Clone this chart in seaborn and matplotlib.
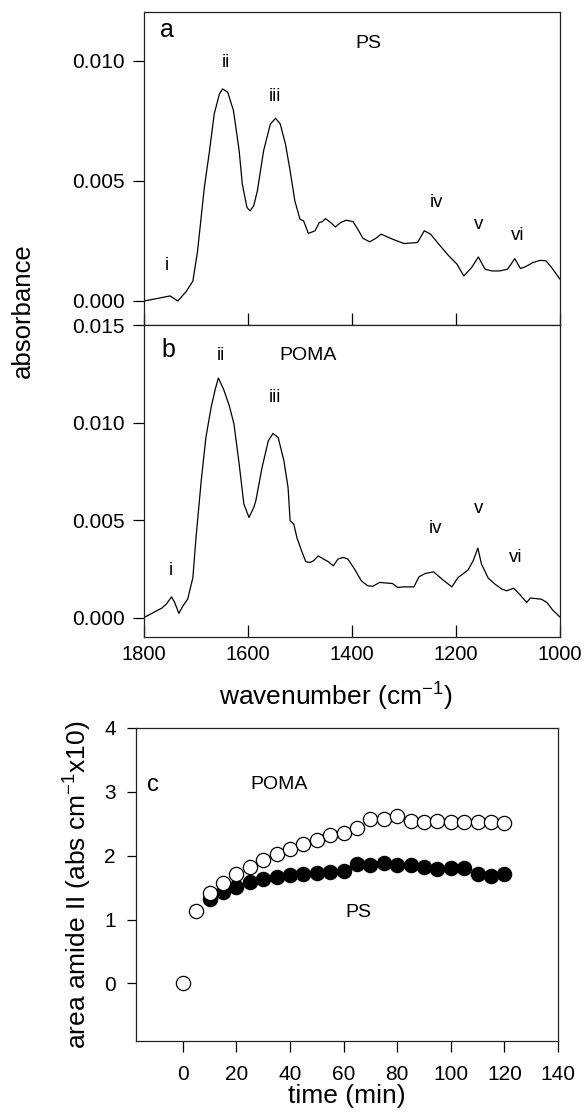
import matplotlib
matplotlib.use("Agg")
import matplotlib.pyplot as plt
import seaborn as sns
import pandas as pd

# Espectros FTIR
wn_ps = [1800, 1773, 1750, 1735, 1719, 1706, 1697, 1684, 1674, 1665, 1655, 1649, 1639,
         1628, 1617, 1611, 1602, 1596, 1589, 1582, 1570, 1557, 1547, 1538, 1528, 1519,
         1510, 1500, 1493, 1484, 1471, 1463, 1457, 1451, 1441, 1432, 1422, 1411, 1398,
         1389, 1379, 1366, 1354, 1344, 1322, 1300, 1274, 1261, 1249, 1233, 1214, 1198,
         1185, 1170, 1157, 1144, 1131, 1116, 1101, 1087, 1076, 1066, 1052, 1038, 1027,
         1016, 1000]
abs_ps = [0.0, 0.00011, 0.00021, 0.0, 0.00039, 0.00083, 0.00208, 0.00472, 0.00625,
          0.00778, 0.00861, 0.00882, 0.00868, 0.00792, 0.00625, 0.00486, 0.00389,
          0.00375, 0.00396, 0.00458, 0.00625, 0.00736, 0.00760, 0.00736, 0.00653,
          0.00542, 0.00417, 0.00340, 0.00333, 0.00281, 0.00292, 0.00326, 0.00330,
          0.00343, 0.00326, 0.00308, 0.00326, 0.00336, 0.00330, 0.00299, 0.00261,
          0.00246, 0.00261, 0.00278, 0.00257, 0.00239, 0.00243, 0.00292, 0.00278,
          0.00236, 0.00188, 0.00153, 0.00104, 0.00139, 0.00183, 0.00132, 0.00125,
          0.00125, 0.00132, 0.00176, 0.00135, 0.00143, 0.00160, 0.00169, 0.00167,
          0.00139, 0.00090]

wn_poma = [1800, 1785, 1766, 1757, 1747, 1741, 1733, 1725, 1716, 1706, 1700, 1690, 1681,
           1671, 1663, 1657, 1647, 1636, 1627, 1617, 1608, 1598, 1589, 1585, 1573, 1561,
           1552, 1542, 1531, 1523, 1519, 1512, 1506, 1497, 1489, 1481, 1474, 1465, 1455,
           1446, 1436, 1427, 1417, 1408, 1395, 1382, 1370, 1360, 1347, 1322, 1312, 1300,
           1281, 1271, 1259, 1243, 1227, 1208, 1196, 1177, 1167, 1158, 1151, 1138, 1125,
           1112, 1103, 1089, 1078, 1064, 1057, 1036, 1025, 1014, 1000]
abs_poma = [0.0, 0.00021, 0.00048, 0.00069, 0.00106, 0.00077, 0.00021, 0.0006, 0.00094,
            0.00205, 0.0041, 0.00701, 0.00923, 0.01077, 0.01171, 0.01228, 0.01171,
            0.01086, 0.00992, 0.00787, 0.00582, 0.00513, 0.00564, 0.00598, 0.00769,
            0.00906, 0.00944, 0.00923, 0.00804, 0.00667, 0.00496, 0.00479, 0.0041,
            0.00342, 0.00287, 0.00282, 0.00291, 0.00316, 0.003, 0.00287, 0.00265, 0.003,
            0.00308, 0.003, 0.00248, 0.00188, 0.00163, 0.00160, 0.0018, 0.00174, 0.00154,
            0.00157, 0.00157, 0.00209, 0.00226, 0.00234, 0.00197, 0.00157, 0.00205,
            0.00243, 0.00291, 0.00356, 0.00274, 0.00202, 0.00171, 0.00146, 0.00137,
            0.0015, 0.0012, 0.00077, 0.001, 0.00094, 0.00077, 0.00038, 0.00002]

# Area amida II frente al tiempo
t_poma = list(range(0, 125, 5))
area_poma = [0.0, 1.13, 1.41, 1.58, 1.71, 1.82, 1.93, 2.02, 2.10, 2.18, 2.25, 2.33, 2.35,
             2.44, 2.57, 2.57, 2.62, 2.54, 2.53, 2.54, 2.53, 2.53, 2.53, 2.53, 2.52]
t_ps = list(range(10, 125, 5))
area_ps = [1.32, 1.43, 1.51, 1.59, 1.64, 1.66, 1.70, 1.72, 1.73, 1.75, 1.76, 1.87, 1.86,
           1.88, 1.85, 1.85, 1.82, 1.79, 1.81, 1.81, 1.72, 1.69, 1.71]

# Etiquetas de las bandas
bands = ["i", "ii", "iii", "iv", "v", "vi"]
band_pos_a = [(1757, 0.00146), (1643, 0.00992), (1549, 0.0085), (1238, 0.00408),
              (1157, 0.00317), (1081, 0.00271)]
band_pos_b = [(1749, 0.0024), (1653, 0.01342), (1549, 0.01127), (1240, 0.00455),
              (1157, 0.00557), (1085, 0.00306)]

sns.set_style("ticks")
plt.rcParams["font.family"] = ["Liberation Sans", "DejaVu Sans"]
plt.rcParams["mathtext.fontset"] = "custom"
plt.rcParams["mathtext.rm"] = "Liberation Sans"
plt.rcParams["axes.linewidth"] = 0.9
plt.rcParams["axes.edgecolor"] = "#222222"
for k in ["text.color", "axes.labelcolor", "xtick.color", "ytick.color"]:
    plt.rcParams[k] = "black"

fig = plt.figure(figsize=(5.84, 11.15), dpi=100)
ax_a = fig.add_axes([0.2466, 0.7085, 0.7123, 0.2803])
ax_b = fig.add_axes([0.2466, 0.4287, 0.7123, 0.2798])
ax_c = fig.add_axes([0.2329, 0.0664, 0.7226, 0.2807])

df_ps = pd.DataFrame({"wn": wn_ps, "abs": abs_ps})
df_poma = pd.DataFrame({"wn": wn_poma, "abs": abs_poma})

for ax, df, ylim, yt, name, name_pos, letter, lpos, bpos in [
    (ax_a, df_ps, (-0.001, 0.012), [0, 0.005, 0.010], "PS", (1368, 0.0107), "a", (0.038, 0.944), band_pos_a),
    (ax_b, df_poma, (-0.001, 0.015), [0, 0.005, 0.010, 0.015], "POMA", (1485, 0.01342), "b", (0.043, 0.92), band_pos_b),
]:
    sns.lineplot(x="wn", y="abs", data=df, ax=ax, color="black", linewidth=0.9, estimator=None)
    ax.set_xlim(1800, 1000)
    ax.set_ylim(*ylim)
    ax.set_yticks(yt)
    ax.set_yticklabels([f"{v:.3f}" for v in yt])
    ax.set_xticks([1800, 1600, 1400, 1200, 1000])
    ax.tick_params(axis="x", direction="in", length=8.5, width=0.9, labelsize=14.5, pad=6)
    ax.tick_params(axis="y", direction="out", length=8, width=0.9, labelsize=15, pad=6)
    ax.set_xlabel("")
    ax.set_ylabel("")
    ax.text(*name_pos, name, fontsize=14, ha="center", va="center")
    ax.text(*lpos, letter, fontsize=18, ha="left", va="center", transform=ax.transAxes)
    for lab, (x, y) in zip(bands, bpos):
        ax.text(x, y, lab, fontsize=13.5, ha="center", va="center")

ax_a.tick_params(axis="x", labelbottom=False)
ax_b.set_xlabel("wavenumber (cm$^{-1}$)", fontsize=19)
ax_b.xaxis.set_label_coords(0.46, -0.135)
fig.text(0.039, 0.721, "absorbance", rotation=90, fontsize=18.5, ha="center", va="center")

# Panel c
sns.scatterplot(x=t_ps, y=area_ps, ax=ax_c, color="black", edgecolor="black",
                s=105, linewidth=0.9, zorder=3)
sns.scatterplot(x=t_poma, y=area_poma, ax=ax_c, color="white", edgecolor="black",
                s=105, linewidth=0.9, zorder=4)
ax_c.set_xlim(-17.5, 140)
ax_c.set_ylim(-0.9, 4)
ax_c.set_xticks(range(0, 141, 20))
ax_c.set_yticks(range(0, 5))
ax_c.tick_params(axis="x", direction="out", length=8, width=0.9, labelsize=15, pad=9)
ax_c.tick_params(axis="y", direction="out", length=6.5, width=0.9, labelsize=15, pad=8)
ax_c.set_xlabel("time (min)", fontsize=19, labelpad=0)
ax_c.set_ylabel("area amide II (abs cm$^{-1}$x10)", fontsize=19, labelpad=8)
ax_c.text(-11.2, 3.1, "c", fontsize=17, ha="center", va="center")
ax_c.text(36, 3.12, "POMA", fontsize=14, ha="center", va="center")
ax_c.text(65.4, 1.11, "PS", fontsize=14, ha="center", va="center")

plt.savefig("out.png", dpi=100)
